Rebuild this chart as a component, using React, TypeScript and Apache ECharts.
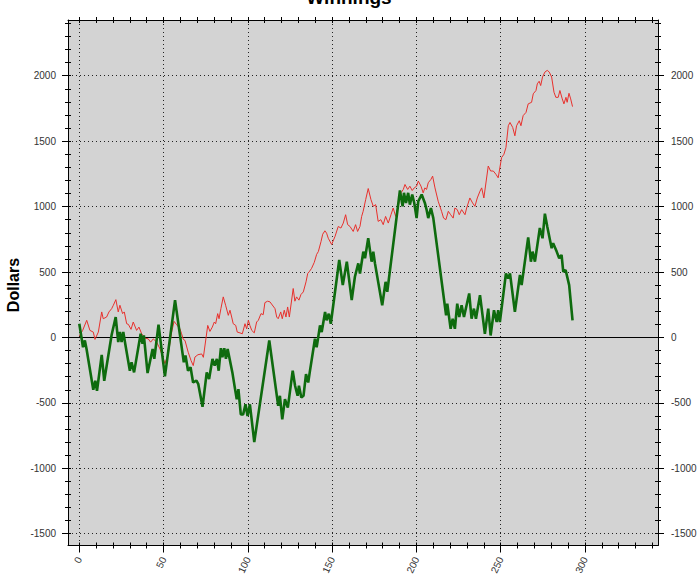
import React, { useEffect, useRef } from "react";
import * as echarts from "echarts";

const X_MIN = -6.7;
const X_MAX = 343.3;
const Y_MIN = -1590;
const Y_MAX = 2426;

const xMinorTicks = [0, 10, 20, 30, 40, 50, 60, 70, 80, 90, 100, 110, 120, 130, 140, 150, 160, 170, 180, 190, 200, 210, 220, 230, 240, 250, 260, 270, 280, 290, 300, 310, 320, 330, 340];
const xMajorTicks = [0, 50, 100, 150, 200, 250, 300];
const xLabels = [0, 50, 100, 150, 200, 250, 300];
const yMinorTicks = [-1500, -1400, -1300, -1200, -1100, -1000, -900, -800, -700, -600, -500, -400, -300, -200, -100, 0, 100, 200, 300, 400, 500, 600, 700, 800, 900, 1000, 1100, 1200, 1300, 1400, 1500, 1600, 1700, 1800, 1900, 2000, 2100, 2200, 2300, 2400];
const yMajorTicks = [-1500, -1000, -500, 0, 500, 1000, 1500, 2000];
const yLabels = [-1500, -1000, -500, 0, 500, 1000, 1500, 2000];

const redX = [0, 2, 4.4, 6.3, 8.3, 9.3, 11.3, 13.3, 14.2, 16.2, 17.6, 19.2, 20.2, 21.7, 23.1, 24.1, 25.7, 26.7, 28.1, 29.1, 30.7, 32, 34, 35.4, 37, 39, 40.9, 42.3, 43.9, 45.9, 47.9, 50.8, 52.8, 54.8, 56.2, 57.8, 59.7, 60.7, 61.7, 62.7, 64.6, 66.3, 67.6, 68.6, 70.4, 72.6, 73.6, 76.2, 77.5, 78.9, 80.1, 80.9, 82.1, 82.9, 84, 85.4, 86.8, 88.4, 89.4, 90.4, 91.3, 92.8, 93.7, 95.3, 96.7, 98.3, 99.3, 100.3, 101.2, 102.3, 103.8, 105.2, 106.2, 107.8, 109.1, 110.1, 111.7, 113.1, 116.1, 117.1, 118, 119.5, 120.4, 121.6, 122.6, 123.6, 124.6, 126.9, 127.9, 128.9, 130.3, 131.5, 132.9, 134.5, 135.5, 136.4, 137.8, 139.4, 140.8, 141.8, 143.4, 144.4, 145.7, 146.7, 147.7, 149.7, 151.7, 153.6, 155.2, 156.6, 158, 159.2, 160.6, 162.5, 163.9, 165.1, 166.5, 167.5, 168.4, 169.9, 171.4, 173, 174.4, 175.8, 177.3, 178.9, 180.3, 181.7, 183.3, 184.9, 186.2, 187.7, 189.2, 190.8, 192.2, 193.2, 194.8, 196.1, 197.5, 198.7, 200.1, 201.1, 202.7, 204, 205, 206, 207, 208.6, 209.6, 211, 212.9, 214.9, 216.1, 217.5, 218.9, 220.3, 221.8, 222.8, 224.2, 225.4, 226.8, 228.8, 229.8, 231.7, 233.3, 234.7, 236.1, 237.7, 238.7, 240, 242.6, 244, 245.6, 247.2, 248.5, 250.5, 251.9, 253.1, 254.5, 255.5, 257.1, 258.4, 259.4, 261, 262, 263.3, 265, 266.3, 268.3, 269.3, 270.9, 271.7, 272.8, 273.7, 274.8, 276.2, 277.6, 278.8, 280.2, 281.6, 282.7, 284.1, 285.1, 286.5, 287.5, 288.7, 289.4, 290.5, 291.5, 292.6];
const redY = [10, 54, 131, 54, 41, -15, 41, 195, 143, 156, 195, 220, 246, 289, 195, 246, 182, 195, 105, 100, 62, 118, 54, 79, 28, -5, -11, -36, -11, -36, -88, -200, -126, 41, 123, 97, 66, 28, -15, -23, -113, -177, -215, -150, -132, -126, -152, 92, 46, 79, 118, 105, 182, 143, 220, 310, 246, 169, 208, 156, 105, 92, 41, 35, 28, 105, 66, 131, 92, 54, 35, 118, 131, 182, 174, 266, 277, 272, 220, 156, 143, 195, 143, 208, 156, 233, 156, 374, 277, 310, 285, 328, 348, 425, 489, 502, 528, 574, 635, 656, 733, 789, 815, 797, 758, 710, 772, 848, 836, 874, 938, 862, 848, 810, 862, 810, 848, 925, 964, 1054, 1138, 1054, 1002, 1015, 887, 900, 862, 925, 874, 938, 989, 925, 1002, 1105, 1131, 1169, 1131, 1156, 1123, 1143, 1156, 1195, 1156, 1105, 1143, 1131, 1182, 1208, 1233, 1143, 1041, 964, 912, 900, 964, 938, 912, 989, 977, 938, 977, 938, 989, 1066, 1028, 1002, 1066, 1118, 1143, 1066, 1310, 1272, 1272, 1246, 1220, 1374, 1400, 1451, 1618, 1643, 1605, 1541, 1618, 1656, 1618, 1695, 1720, 1785, 1797, 1862, 1887, 1938, 1958, 1925, 1990, 2028, 2041, 2028, 1990, 1874, 1835, 1835, 1887, 1823, 1785, 1835, 1797, 1866, 1823, 1764];

const greenX = [0, 2.2, 3.3, 4.3, 8.3, 9.5, 10.5, 13.3, 14.8, 19.2, 21.6, 23.1, 24.1, 25.1, 26.1, 27.1, 30, 31, 32.5, 36.4, 37.5, 38.3, 40.5, 43.5, 44.5, 47, 50.8, 56.8, 62, 63, 64.5, 66, 67.5, 69.5, 70.6, 73.1, 75.6, 77, 79, 80.3, 81.6, 82.7, 84, 84.9, 86, 87, 88, 90.8, 92.4, 93.4, 94.4, 95.8, 97.2, 98.6, 99.8, 101.2, 102, 103.8, 112.7, 118, 119, 120.4, 122, 123.7, 126.6, 128, 129.5, 130.3, 131.7, 133, 134.5, 135.8, 136.7, 139.8, 140.8, 141.6, 142.8, 143.8, 145.8, 146.7, 148, 149.2, 154.2, 156.3, 158.7, 161.6, 163.5, 165.5, 166.5, 168.5, 169.5, 171.4, 173.4, 174.4, 175.4, 179.7, 181.7, 182.7, 190.2, 191.8, 192.6, 193.8, 195.1, 196.1, 197.5, 198.7, 200.1, 201.1, 203.1, 205, 206, 207, 208.6, 210, 217.6, 218.3, 220.3, 221.5, 222.8, 224.2, 225.4, 226.8, 228.2, 231.3, 232.7, 234.1, 235.3, 237.7, 240.6, 242.6, 244, 246, 247.6, 248.5, 249.5, 253.1, 254.4, 255.5, 258.4, 261.4, 262.4, 266.3, 267.9, 268.9, 270.3, 273.2, 274.8, 276.2, 277.6, 280.2, 281.1, 283.2, 284.7, 286.1, 287.1, 288.5, 290.6, 292.6];
const greenY = [105, -75, -23, -88, -400, -331, -408, -134, -331, 20, 156, -36, 41, -36, 41, -36, -254, -190, -267, 28, -49, 15, -272, -88, -164, 97, -298, 285, -190, -138, -254, -228, -344, -330, -357, -530, -267, -318, -164, -215, -164, -254, -82, -152, -82, -164, -88, -267, -395, -472, -395, -588, -588, -511, -600, -511, -600, -800, -23, -523, -446, -626, -472, -536, -254, -369, -446, -369, -459, -446, -280, -344, -267, -10, -75, -10, 92, 41, 195, 131, 182, 105, 592, 400, 579, 285, 464, 566, 489, 656, 605, 758, 579, 656, 566, 246, 425, 348, 1123, 1002, 1105, 1028, 1105, 1015, 1092, 1028, 912, 1041, 1092, 1028, 977, 912, 989, 912, 169, 258, 66, 143, 66, 258, 156, 246, 156, 336, 143, 220, 143, 323, 28, 220, 15, 208, 118, 208, 118, 489, 451, 489, 195, 477, 400, 764, 579, 656, 579, 836, 758, 946, 848, 682, 720, 656, 605, 631, 502, 515, 400, 131];

const FONT = "'Liberation Sans', Arial, sans-serif";
const BLACK = "#000";

function hiddenAxis(min: number, max: number, extra: any) {
  return {
    type: "value",
    min,
    max,
    axisLine: { show: false, onZero: false },
    axisTick: { show: false },
    axisLabel: { show: false },
    splitLine: { show: false },
    ...extra,
  };
}

const plain = (v: number) => String(v);

export default function App() {
  const ref = useRef<HTMLDivElement>(null);
  useEffect(() => {
    if (!ref.current) return;
    const chart = echarts.init(ref.current, undefined, { renderer: "svg" });
    const redData = redX.map((x, i) => [x, redY[i]]);
    const greenData = greenX.map((x, i) => [x, greenY[i]]);
    const tickLine = { color: BLACK, width: 1 };
    const labelStyle = { fontSize: 10, color: "#333", fontFamily: FONT, formatter: plain };
    const dotted = { color: "#222", width: 1, type: [1, 3] };

    const xAxes = [
      hiddenAxis(X_MIN, X_MAX, {
        position: "bottom",
        axisLine: { show: true, onZero: false, lineStyle: { color: BLACK, width: 1 } },
        axisTick: { show: true, customValues: xMinorTicks, length: 3, lineStyle: tickLine },
        axisLabel: { show: true, customValues: xLabels, rotate: 65, margin: 12, ...labelStyle },
      }),
      hiddenAxis(X_MIN, X_MAX, {
        position: "bottom",
        axisTick: { show: true, customValues: xMajorTicks, length: 7, lineStyle: tickLine },
        splitLine: { show: true, lineStyle: dotted },
      }),
      hiddenAxis(X_MIN, X_MAX, {
        position: "bottom",
        axisTick: { show: true, inside: true, customValues: xMinorTicks, length: 3, lineStyle: tickLine },
      }),
      hiddenAxis(X_MIN, X_MAX, {
        position: "top",
        axisLine: { show: true, onZero: false, lineStyle: { color: BLACK, width: 1 } },
        axisTick: { show: true, customValues: xMinorTicks, length: 3, lineStyle: tickLine },
      }),
      hiddenAxis(X_MIN, X_MAX, {
        position: "top",
        axisTick: { show: true, inside: true, customValues: xMinorTicks, length: 3, lineStyle: tickLine },
      }),
      hiddenAxis(X_MIN, X_MAX, {
        position: "bottom",
        axisLine: { show: true, onZero: true, onZeroAxisIndex: 0, lineStyle: { color: BLACK, width: 1.2 } },
      }),
    ];

    const yAxes = [
      hiddenAxis(Y_MIN, Y_MAX, {
        position: "left",
        axisLine: { show: true, onZero: false, lineStyle: { color: BLACK, width: 1 } },
        axisTick: { show: true, customValues: yMinorTicks, length: 3, lineStyle: tickLine },
        axisLabel: { show: true, customValues: yLabels, margin: 12, ...labelStyle },
      }),
      hiddenAxis(Y_MIN, Y_MAX, {
        position: "left",
        axisTick: { show: true, customValues: yMajorTicks, length: 6, lineStyle: tickLine },
        splitLine: { show: true, lineStyle: dotted },
      }),
      hiddenAxis(Y_MIN, Y_MAX, {
        position: "left",
        axisTick: { show: true, inside: true, customValues: yMinorTicks, length: 3, lineStyle: tickLine },
      }),
      hiddenAxis(Y_MIN, Y_MAX, {
        position: "right",
        axisLine: { show: true, onZero: false, lineStyle: { color: BLACK, width: 1 } },
        axisTick: { show: true, customValues: yMinorTicks, length: 3, lineStyle: tickLine },
        axisLabel: { show: true, customValues: yLabels, margin: 13, ...labelStyle },
      }),
      hiddenAxis(Y_MIN, Y_MAX, {
        position: "right",
        axisTick: { show: true, customValues: yMajorTicks, length: 6, lineStyle: tickLine },
      }),
      hiddenAxis(Y_MIN, Y_MAX, {
        position: "right",
        axisTick: { show: true, inside: true, customValues: yMinorTicks, length: 3, lineStyle: tickLine },
      }),
    ];

    chart.setOption({
      animation: false,
      backgroundColor: "#fff",
      grid: {
        left: 68,
        top: 20,
        right: 42,
        bottom: 34.5,
        show: true,
        backgroundColor: "#d3d3d3",
        borderWidth: 0,
        containLabel: false,
      },
      xAxis: xAxes,
      yAxis: yAxes,
      graphic: [
        {
          type: "text",
          x: 349,
          y: 7,
          style: {
            text: "Winnings",
            fontSize: 19,
            fontWeight: "bold",
            fontFamily: FONT,
            fill: "#000",
            align: "center",
            verticalAlign: "bottom",
          },
        },
        {
          type: "text",
          x: 13,
          y: 285,
          rotation: Math.PI / 2,
          style: {
            text: "Dollars",
            fontSize: 16,
            fontWeight: "bold",
            fontFamily: FONT,
            fill: "#000",
            align: "center",
            verticalAlign: "middle",
          },
        },
      ],
      series: [
        {
          name: "Red",
          type: "line",
          xAxisIndex: 0,
          yAxisIndex: 0,
          data: redData,
          showSymbol: false,
          symbol: "none",
          lineStyle: { color: "#e8302c", width: 1 },
          z: 3,
        },
        {
          name: "Green",
          type: "line",
          xAxisIndex: 0,
          yAxisIndex: 0,
          data: greenData,
          showSymbol: false,
          symbol: "none",
          lineStyle: { color: "#0e6b0e", width: 2.6 },
          z: 4,
        },
      ],
    });
    return () => chart.dispose();
  }, []);
  return (
    <div
      ref={ref}
      style={{ position: "fixed", left: 0, top: 0, width: 700, height: 580, background: "#fff" }}
    />
  );
}
